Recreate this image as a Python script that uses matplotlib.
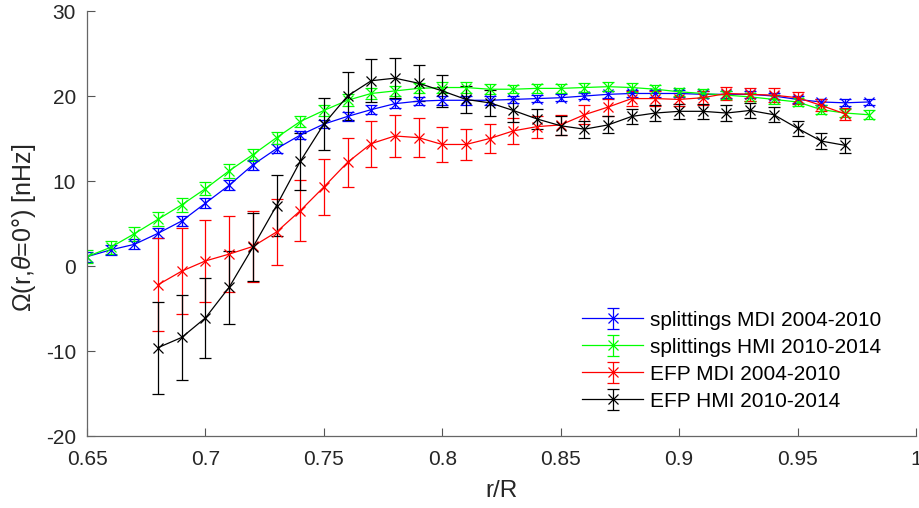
import matplotlib
matplotlib.use('Agg')
from matplotlib import pyplot as plt

plt.rcParams['font.family'] = ['Liberation Sans', 'DejaVu Sans']
plt.rcParams['mathtext.fontset'] = 'custom'
plt.rcParams['mathtext.rm'] = 'Liberation Sans'
plt.rcParams['mathtext.it'] = 'Liberation Sans:italic'
plt.rcParams['axes.unicode_minus'] = False

# splittings, r/R = 0.65 ... 0.98
r_split = [0.65, 0.66, 0.67, 0.68, 0.69, 0.70, 0.71, 0.72, 0.73, 0.74, 0.75, 0.76,
           0.77, 0.78, 0.79, 0.80, 0.81, 0.82, 0.83, 0.84, 0.85, 0.86, 0.87, 0.88,
           0.89, 0.90, 0.91, 0.92, 0.93, 0.94, 0.95, 0.96, 0.97, 0.98]
mdi_split = [1.1, 1.9, 2.55, 3.85, 5.3, 7.4, 9.5, 11.9, 13.8, 15.4, 16.7, 17.6,
             18.4, 19.1, 19.4, 19.5, 19.5, 19.5, 19.6, 19.7, 19.8, 20.0, 20.2, 20.3,
             20.3, 20.3, 20.2, 20.2, 20.2, 20.0, 19.6, 19.3, 19.2, 19.3]
mdi_split_err = [0.6, 0.6, 0.6, 0.6, 0.6, 0.6, 0.6, 0.6, 0.5, 0.5, 0.5, 0.5,
                 0.5, 0.5, 0.5, 0.5, 0.5, 0.5, 0.4, 0.4, 0.4, 0.4, 0.4, 0.4,
                 0.4, 0.4, 0.4, 0.4, 0.4, 0.4, 0.4, 0.4, 0.4, 0.4]
hmi_split = [1.1, 2.2, 3.8, 5.5, 7.2, 9.1, 11.2, 13.1, 15.1, 17.0, 18.3, 19.5,
             20.3, 20.6, 20.9, 21.0, 21.0, 20.8, 20.8, 20.9, 20.9, 21.0, 21.1, 21.0,
             20.8, 20.5, 20.3, 20.1, 19.9, 19.6, 19.3, 18.4, 18.0, 17.8]
hmi_split_err = [0.8, 0.8, 0.8, 0.8, 0.8, 0.8, 0.8, 0.7, 0.7, 0.7, 0.7, 0.7,
                 0.6, 0.6, 0.6, 0.6, 0.6, 0.6, 0.5, 0.5, 0.5, 0.5, 0.5, 0.5,
                 0.5, 0.5, 0.5, 0.5, 0.5, 0.5, 0.5, 0.5, 0.5, 0.5]

# EFP, r/R = 0.68 ... 0.97
r_efp = [0.68, 0.69, 0.70, 0.71, 0.72, 0.73, 0.74, 0.75, 0.76, 0.77, 0.78, 0.79,
         0.80, 0.81, 0.82, 0.83, 0.84, 0.85, 0.86, 0.87, 0.88, 0.89, 0.90, 0.91,
         0.92, 0.93, 0.94, 0.95, 0.96, 0.97]
mdi_efp = [-2.2, -0.6, 0.6, 1.4, 2.3, 4.0, 6.5, 9.3, 12.2, 14.4, 15.3, 15.1,
           14.3, 14.3, 15.0, 15.9, 16.4, 16.6, 17.8, 18.7, 19.7, 19.7, 19.6, 19.8,
           20.3, 20.2, 20.1, 19.8, 18.9, 17.9]
mdi_efp_err = [5.5, 5.1, 4.8, 4.5, 4.2, 3.9, 3.6, 3.3, 2.9, 2.7, 2.5, 2.3,
               2.1, 1.8, 1.65, 1.5, 1.3, 1.2, 1.1, 1.0, 0.9, 0.9, 0.8, 0.8,
               0.8, 0.8, 0.8, 0.7, 0.7, 0.7]
hmi_efp = [-9.6, -8.4, -6.1, -2.5, 2.2, 7.1, 12.3, 16.7, 20.0, 21.8, 22.1, 21.5,
           20.6, 19.6, 19.2, 18.3, 17.3, 16.5, 16.1, 16.6, 17.6, 18.0, 18.2, 18.2,
           18.0, 18.3, 17.8, 16.2, 14.7, 14.2]
hmi_efp_err = [5.4, 5.0, 4.7, 4.3, 4.0, 3.6, 3.4, 3.1, 2.8, 2.5, 2.35, 2.1,
               1.9, 1.6, 1.5, 1.3, 1.2, 1.1, 1.0, 1.0, 0.9, 0.9, 0.9, 0.9,
               0.9, 0.9, 0.9, 0.9, 0.9, 0.9]

labels = ['splittings MDI 2004-2010', 'splittings HMI 2010-2014',
          'EFP MDI 2004-2010', 'EFP HMI 2010-2014']
x_ticks = [0.65, 0.7, 0.75, 0.8, 0.85, 0.9, 0.95, 1]
x_tick_labels = ['0.65', '0.7', '0.75', '0.8', '0.85', '0.9', '0.95', '1']
y_ticks = [-20, -10, 0, 10, 20, 30]

fig = plt.figure(figsize=(9.19, 5.08), dpi=100)
ax = fig.add_axes([0.0947, 0.1417, 0.902, 0.8366])

series = [(r_split, mdi_split, mdi_split_err, (0, 0, 1)),
          (r_split, hmi_split, hmi_split_err, (0, 1, 0)),
          (r_efp, mdi_efp, mdi_efp_err, (1, 0, 0)),
          (r_efp, hmi_efp, hmi_efp_err, (0, 0, 0))]
for (xs, ys, es, col), lab in zip(series, labels):
    ax.errorbar(xs, ys, yerr=es, color=col, marker='x', markersize=7,
                linewidth=0.9, elinewidth=0.9, capsize=4.5, capthick=0.9,
                markeredgewidth=0.9, label=lab)

ax.set_xlim(0.65, 1)
ax.set_ylim(-20, 30)
ax.set_xticks(x_ticks)
ax.set_xticklabels(x_tick_labels)
ax.set_yticks(y_ticks)
ax.tick_params(direction='in', length=6, width=0.8, color='#555555',
               labelsize=15, labelcolor='#262626')
ax.tick_params(axis='x', pad=10)
ax.tick_params(axis='y', pad=8)
for side in ['top', 'right']:
    ax.spines[side].set_visible(False)
for side in ['left', 'bottom']:
    ax.spines[side].set_color('#666666')
    ax.spines[side].set_linewidth(0.9)

ax.set_xlabel('r/R', fontsize=17.5, color='#262626', labelpad=8)
ax.set_ylabel(r'$\mathrm{\Omega}$(r,$\theta$=0°) [nHz]', fontsize=18,
              color='#262626')
ax.yaxis.set_label_coords(-0.059, 0.49)

ax.legend(loc='upper left', bbox_to_anchor=(0.6333, 0.3884),
          bbox_transform=fig.transFigure, frameon=False, borderpad=0,
          handlelength=2.93, handletextpad=0.34, labelspacing=0.385,
          fontsize=15, borderaxespad=0)

fig.savefig('out.png', dpi=100)
